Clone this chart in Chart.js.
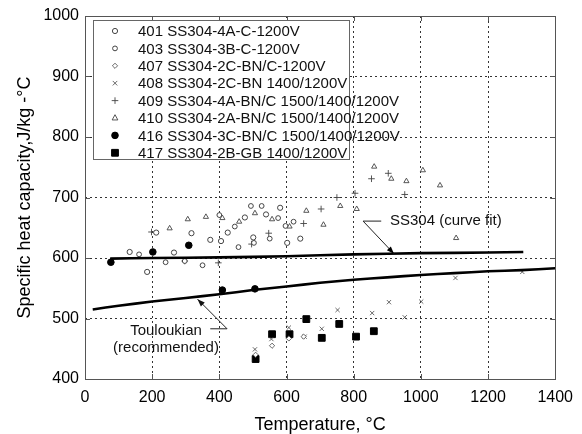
<!DOCTYPE html>
<html><head><meta charset="utf-8">
<script src="https://cdn.jsdelivr.net/npm/chart.js@4"></script>
<style>html,body{margin:0;padding:0;background:#fff}#c{display:block}</style>
</head><body>
<canvas id="c" width="582" height="434"></canvas>
<script>
const FONT = '"Liberation Sans", Arial, sans-serif';
const xTicks = [0,200,400,600,800,1000,1200,1400];
const yTicks = [400,500,600,700,800,900,1000];
const labels = ['401 SS304-4A-C-1200V','403 SS304-3B-C-1200V','407 SS304-2C-BN/C-1200V','408 SS304-2C-BN 1400/1200V','409 SS304-4A-BN/C 1500/1400/1200V','410 SS304-2A-BN/C 1500/1400/1200V','416 SS304-3C-BN/C 1500/1400/1200V','417 SS304-2B-GB 1400/1200V'];
const s401 = [[133,610],[212,642],[265,609],[317,641],[373,630],[425,642],[476,667],[501,634],[539,672],[581,683],[602,625],[641,632],[185,577],[405,628]];
const s403 = [[161,606],[240,593],[297,595],[350,588],[400,671],[446,652],[457,618],[494,686],[503,625],[526,686],[550,632],[575,666],[597,653],[621,660]];
const s407 = [[508,440],[557,455],[607,467],[651,470]];
const s408 = [[506,449],[555,466],[607,485],[654,470],[705,483],[752,514],[855,509],[905,527],[952,502],[1001,528],[1103,567],[1302,577]];
const s409 = [[198,643],[297,595],[397,592],[496,623],[547,641],[651,657],[703,681],[750,700],[804,707],[853,731],[903,740],[952,705]];
const s410 = [[252,649],[306,664],[360,668],[409,666],[459,660],[506,674],[557,664],[609,652],[659,678],[710,655],[760,686],[809,681],[861,751],[912,731],[957,727],[1006,745],[1057,720],[1105,633]];
const s416 = [[77,593],[202,610],[309,621],[409,547],[506,549]];
const s417 = [[508,433],[557,474],[609,474],[659,499],[705,468],[757,491],[807,470],[860,479]];
const fitT = [75,200,400,600,800,1000,1200,1305];
const fitC = [599,600,601,603,606,608,609,610];
const touT = [23,100,200,300,400,500,600,700,800,900,1000,1100,1200,1300,1400];
const touC = [515,521,528,534,540,547,553,559,564,568,572,575,578,580,583];
const annFit = 'SS304 (curve fit)';
const annTou = ['Touloukian','(recommended)'];

const pts = a => a.map(p => ({x:p[0], y:p[1]}));
const ln = (t,c) => t.map((v,i) => ({x:v, y:c[i]}));
const G = '#444';
const styles = [
  {ps:'circle', r:2.6, fill:'#fff', stroke:G, bw:1},
  {ps:'circle', r:2.4, fill:'#fff', stroke:G, bw:1},
  {ps:'rectRot', r:2.6, fill:'#fff', stroke:G, bw:0.8},
  {ps:'crossRot', r:3, fill:G, stroke:G, bw:0.8},
  {ps:'cross', r:3.3, fill:G, stroke:G, bw:0.9},
  {ps:'triangle', r:3, fill:'#fff', stroke:G, bw:0.9},
  {ps:'circle', r:3.3, fill:'#000', stroke:'#000', bw:1},
  {ps:'rect', r:4.8, fill:'#000', stroke:'#000', bw:1}
];
const series = [s401,s403,s407,s408,s409,s410,s416,s417];
const datasets = series.map((s,i) => ({
  type:'scatter', label: labels[i], data: pts(s),
  pointStyle: styles[i].ps, pointRadius: styles[i].r, pointHoverRadius: styles[i].r,
  backgroundColor: styles[i].fill, borderColor: styles[i].stroke, borderWidth: styles[i].bw, showLine:false
}));
datasets.unshift(
  {type:'line', label:'fit', data: ln(fitT,fitC), borderColor:'#000', borderWidth:2.6, pointRadius:0, fill:false, tension:0.3},
  {type:'line', label:'tou', data: ln(touT,touC), borderColor:'#000', borderWidth:2.6, pointRadius:0, fill:false, tension:0.3}
);

function drawMarker(ctx, st, x, y) {
  const r = st.r;
  ctx.save();
  ctx.fillStyle = st.fill; ctx.strokeStyle = st.stroke; ctx.lineWidth = st.bw;
  ctx.beginPath();
  if (st.ps === 'circle') { ctx.arc(x,y,r,0,Math.PI*2); ctx.fill(); ctx.stroke(); }
  else if (st.ps === 'rect') { const s=r*Math.SQRT1_2; ctx.rect(x-s,y-s,2*s,2*s); ctx.fill(); ctx.stroke(); }
  else if (st.ps === 'rectRot') { ctx.moveTo(x,y-r); ctx.lineTo(x+r,y); ctx.lineTo(x,y+r); ctx.lineTo(x-r,y); ctx.closePath(); ctx.fill(); ctx.stroke(); }
  else if (st.ps === 'cross') { ctx.moveTo(x-r,y); ctx.lineTo(x+r,y); ctx.moveTo(x,y-r); ctx.lineTo(x,y+r); ctx.stroke(); }
  else if (st.ps === 'crossRot') { const s=r*0.75; ctx.moveTo(x-s,y-s); ctx.lineTo(x+s,y+s); ctx.moveTo(x+s,y-s); ctx.lineTo(x-s,y+s); ctx.stroke(); }
  else if (st.ps === 'triangle') { ctx.moveTo(x,y-r*1.1); ctx.lineTo(x+r*0.95,y+r*0.65); ctx.lineTo(x-r*0.95,y+r*0.65); ctx.closePath(); ctx.fill(); ctx.stroke(); }
  ctx.restore();
}

const frame = {
  id:'frame',
  afterDatasetsDraw(chart) {
    const {ctx, chartArea:a, scales:{x, y}} = chart;
    ctx.save();
    ctx.strokeStyle = '#555'; ctx.lineWidth = 1;
    ctx.strokeRect(Math.round(a.left)+0.5, Math.round(a.top)+0.5, Math.round(a.right-a.left), Math.round(a.bottom-a.top));
    ctx.beginPath();
    xTicks.forEach(v => { const px = Math.round(x.getPixelForValue(v))+0.5; ctx.moveTo(px,a.bottom); ctx.lineTo(px,a.bottom-5); ctx.moveTo(px,a.top); ctx.lineTo(px,a.top+5); });
    yTicks.forEach(v => { const py = Math.round(y.getPixelForValue(v))+0.5; ctx.moveTo(a.left,py); ctx.lineTo(a.left+5,py); ctx.moveTo(a.right,py); ctx.lineTo(a.right-5,py); });
    ctx.stroke();

    // legend box
    const L = 93, T = 20, W = 256, H = 139;
    ctx.fillStyle = '#fff'; ctx.fillRect(L, T, W, H);
    ctx.strokeStyle = '#666'; ctx.strokeRect(L+0.5, T+0.5, W, H);
    ctx.font = '15px ' + FONT; ctx.textBaseline = 'middle'; ctx.textAlign = 'left';
    labels.forEach((lab, i) => {
      const yy = 31 + i*17.4;
      drawMarker(ctx, styles[i], 115, yy);
      ctx.fillStyle = '#111';
      ctx.fillText(lab, 138, yy+1);
    });

    // annotations
    ctx.strokeStyle = '#222'; ctx.fillStyle = '#000'; ctx.lineWidth = 1;
    const arrow = (x0,y0,x1,y1) => {
      ctx.beginPath(); ctx.moveTo(x0,y0); ctx.lineTo(x1,y1); ctx.stroke();
      const ang = Math.atan2(y1-y0, x1-x0), L2 = 8, w = 0.35;
      ctx.beginPath(); ctx.moveTo(x1,y1);
      ctx.lineTo(x1 - L2*Math.cos(ang-w), y1 - L2*Math.sin(ang-w));
      ctx.lineTo(x1 - L2*Math.cos(ang+w), y1 - L2*Math.sin(ang+w));
      ctx.closePath(); ctx.fill();
    };
    let sx = x.getPixelForValue(828), sy = y.getPixelForValue(661);
    ctx.beginPath(); ctx.moveTo(sx, sy); ctx.lineTo(x.getPixelForValue(882), sy); ctx.stroke();
    arrow(sx, sy, x.getPixelForValue(920), y.getPixelForValue(607));
    ctx.font = '15px ' + FONT; ctx.textAlign = 'left'; ctx.fillStyle = '#111';
    ctx.fillText(annFit, x.getPixelForValue(908), sy);

    sx = x.getPixelForValue(423); sy = y.getPixelForValue(483);
    ctx.beginPath(); ctx.moveTo(sx, sy); ctx.lineTo(x.getPixelForValue(373), sy); ctx.stroke();
    arrow(sx, sy, x.getPixelForValue(335), y.getPixelForValue(532));
    ctx.textAlign = 'center'; ctx.fillStyle = '#111';
    const cx = 166;
    ctx.fillText(annTou[0], cx, sy+2);
    ctx.fillText(annTou[1], cx, sy+19);
    ctx.restore();
  }
};

const plainTick = v => String(v);

new Chart(document.getElementById('c'), {
  type:'scatter',
  data:{datasets},
  options:{
    responsive:false, animation:false, devicePixelRatio:1,
    layout:{padding:{left:0, top:16, right:24, bottom:0}},
    plugins:{legend:{display:false}, tooltip:{enabled:false}},
    scales:{
      x:{type:'linear', min:0, max:1400,
        afterBuildTicks: s => { s.ticks = xTicks.map(v => ({value:v})); },
        afterFit: s => { s.height = 55; },
        ticks:{color:'#000', font:{family:FONT, size:16}, padding:9, maxRotation:0, callback: plainTick},
        grid:{color:'#333', drawTicks:false, lineWidth:1},
        border:{display:false, dash:[2,3]},
        title:{display:true, text:'Temperature, °C', color:'#000', font:{family:FONT, size:18, lineHeight:1.0}, padding:{top:0,bottom:0}}
      },
      y:{type:'linear', min:400, max:1000,
        afterBuildTicks: s => { s.ticks = yTicks.map(v => ({value:v})); },
        afterFit: s => { s.width = 85; },
        ticks:{color:'#000', font:{family:FONT, size:16}, padding:6, callback: plainTick},
        grid:{color:'#333', drawTicks:false, lineWidth:1},
        border:{display:false, dash:[2,3]},
        title:{display:true, text:'Specific heat capacity,J/kg -°C', color:'#000', font:{family:FONT, size:18}, padding:{top:14,bottom:0}}
      }
    }
  },
  plugins:[frame]
});
</script>
</body></html>
